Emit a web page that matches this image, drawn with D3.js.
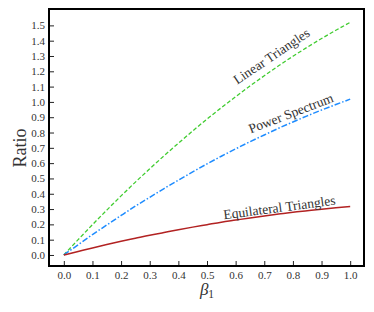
<!DOCTYPE html>
<html><head><meta charset="utf-8">
<script src="https://cdn.jsdelivr.net/npm/d3@7"></script>
<style>html,body{margin:0;padding:0;background:#fff;}</style>
</head><body>
<svg id="c" width="374" height="312"></svg>
<script>
const beta = [0,0.05,0.1,0.15,0.2,0.25,0.3,0.35,0.4,0.45,0.5,0.55,0.6,0.65,0.7,0.75,0.8,0.85,0.9,0.95,1.0];
const linearTriangles = [0,0.100,0.198,0.293,0.386,0.476,0.563,0.648,0.730,0.810,0.888,0.962,1.034,1.104,1.171,1.236,1.298,1.357,1.414,1.468,1.520];
const powerSpectrum = [0,0.067,0.133,0.196,0.258,0.319,0.377,0.434,0.489,0.543,0.595,0.645,0.693,0.740,0.784,0.828,0.869,0.909,0.947,0.983,1.018];
const equilateralTriangles = [0,0.023,0.046,0.068,0.089,0.109,0.129,0.147,0.165,0.182,0.198,0.214,0.228,0.242,0.255,0.267,0.279,0.289,0.299,0.308,0.316];
const xTicks = [0,0.1,0.2,0.3,0.4,0.5,0.6,0.7,0.8,0.9,1.0];
const yTicks = [0,0.1,0.2,0.3,0.4,0.5,0.6,0.7,0.8,0.9,1.0,1.1,1.2,1.3,1.4,1.5];

const svg = d3.select("#c");
const L=49, R=364, T=9, B=266;
const x = d3.scaleLinear().domain([-0.05,1.05]).range([L+0.5,R+0.5]);
const y = d3.scaleLinear().domain([-0.072,1.607]).range([B,T]);
const font = "'Liberation Serif','DejaVu Serif',serif";

const series = [
  {v: linearTriangles, color:"#40cc30", dash:"4,2.2", w:1.3},
  {v: powerSpectrum, color:"#1e8cff", dash:"6,2,1.5,2", w:1.5},
  {v: equilateralTriangles, color:"#b22222", dash:null, w:1.5}
];
const line = d3.line().x((d,i)=>x(beta[i])).y(d=>y(d)).curve(d3.curveMonotoneX);
series.forEach(s=>{
  svg.append("path").datum(s.v).attr("d",line).attr("fill","none")
    .attr("stroke",s.color).attr("stroke-width",s.w)
    .attr("stroke-dasharray",s.dash);
});

const xa = svg.append("g").attr("transform",`translate(0,${B})`)
  .call(d3.axisBottom(x).tickValues(xTicks).tickSizeInner(-5).tickSizeOuter(0).tickPadding(5).tickFormat(d3.format(".1f")));
const ya = svg.append("g").attr("transform",`translate(${L},0)`)
  .call(d3.axisLeft(y).tickValues(yTicks).tickSizeInner(-5).tickSizeOuter(0).tickPadding(4).tickFormat(d3.format(".1f")));
[xa,ya].forEach(a=>{
  a.select(".domain").remove();
  a.selectAll("text").attr("font-family",font).attr("font-size","11px").attr("fill","#333");
  a.selectAll("line").attr("stroke","#222").attr("stroke-width",1);
});

svg.append("rect").attr("x",L).attr("y",T).attr("width",R-L).attr("height",B-T)
  .attr("fill","none").attr("stroke","#000").attr("stroke-width",2);

svg.append("text").attr("transform","translate(19.5,148) rotate(-90)")
  .attr("text-anchor","middle").attr("dominant-baseline","central")
  .attr("font-family",font).attr("font-size","18px").attr("fill","#333").text("Ratio");

const bl = svg.append("text").attr("x",207).attr("y",295).attr("text-anchor","middle")
  .attr("font-family",font).attr("font-size","17px").attr("fill","#333");
bl.append("tspan").attr("font-style","italic").text("β");
bl.append("tspan").attr("font-size","11.5px").attr("dy","3").text("1");

const labels = [
  {t:"Linear Triangles", cx:274, cy:60, a:-34},
  {t:"Power Spectrum", cx:292.5, cy:117.5, a:-21},
  {t:"Equilateral Triangles", cx:280, cy:212, a:-7.5}
];
labels.forEach(l=>{
  svg.append("text").attr("transform",`translate(${l.cx},${l.cy}) rotate(${l.a})`)
    .attr("text-anchor","middle")
    .attr("font-family",font).attr("font-size","13.5px").attr("fill","#333").text(l.t);
});
</script>
</body></html>
